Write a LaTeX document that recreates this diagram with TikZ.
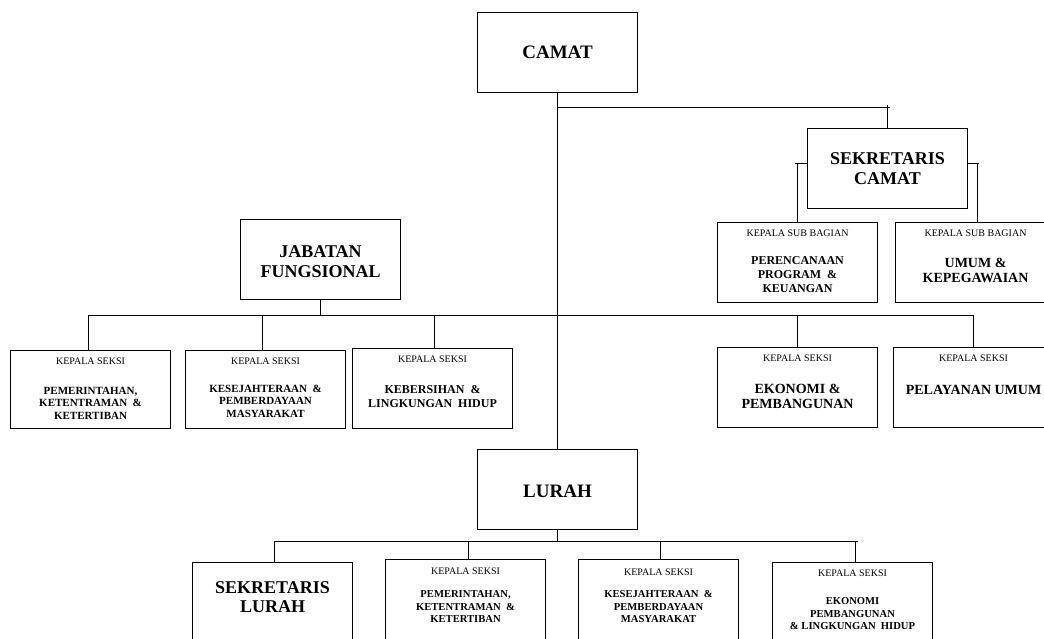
\documentclass[tikz,border=0pt]{standalone}
\usepackage{fontspec}
\setmainfont{Liberation Serif}
\begin{document}
\begin{tikzpicture}[x=1pt,y=-1pt,
  box/.style={draw, line width=1.1pt, minimum width=160pt, minimum height=80pt, inner sep=0pt, anchor=north west},
  sbox/.style={draw, line width=1.1pt, minimum width=160pt, minimum height=78pt, inner sep=0pt, anchor=north west},
  conn/.style={line width=0.9pt},
  lab/.style={font=\fontsize{10}{11}\selectfont, inner sep=0pt},
  bigt/.style={font=\fontsize{19}{21}\selectfont\bfseries, align=center, inner sep=0pt},
  midt/.style={font=\fontsize{18}{19.5}\selectfont\bfseries, align=center, inner sep=0pt},
  t14/.style={font=\fontsize{14}{15}\selectfont\bfseries, align=center, inner sep=0pt},
  t12/.style={font=\fontsize{12}{14}\selectfont\bfseries, align=center, inner sep=0pt},
  t11/.style={font=\fontsize{11}{12.5}\selectfont\bfseries, align=center, inner sep=0pt},
  t10/.style={font=\fontsize{10.6}{12.5}\selectfont\bfseries, align=center, inner sep=0pt}]
\useasboundingbox (0,0) rectangle (1044,638);
\clip (0,0) rectangle (1044,638);
\fill[white] (0,0) rectangle (1044,638);

% main boxes
\node[box] (camat) at (477,12) {};
\node[bigt] at (camat.center) {CAMAT};
\node[box] (sekcam) at (807,128) {};
\node[midt] at (sekcam.center) {SEKRETARIS\\CAMAT};
\node[box] (jab) at (240,219) {};
\node[midt] at ([yshift=-2pt]jab.center) {JABATAN\\FUNGSIONAL};
\node[box] (lurah) at (477,449) {};
\node[bigt] at ([yshift=-2pt]lurah.center) {LURAH};

% sub bagian
\node[box] (sb1) at (717,222) {};
\node[lab] at ([yshift=-11pt]sb1.north) {KEPALA SUB BAGIAN};
\node[t12] at ([yshift=-53pt]sb1.north) {PERENCANAAN\\PROGRAM\ \ \&\\KEUANGAN};
\node[box] (sb2) at (895,222) {};
\node[lab] at ([yshift=-11pt]sb2.north) {KEPALA SUB BAGIAN};
\node[t14] at ([yshift=-48pt]sb2.north) {UMUM \&\\KEPEGAWAIAN};

% seksi row
\node[sbox] (s1) at (10,350) {};
\node[lab] at ([yshift=-11pt]s1.north) {KEPALA SEKSI};
\node[t11] at ([yshift=-53pt]s1.north) {PEMERINTAHAN,\\KETENTRAMAN\ \ \&\\KETERTIBAN};
\node[sbox] (s2) at (185,350) {};
\node[lab] at ([yshift=-11pt]s2.north) {KEPALA SEKSI};
\node[t11] at ([yshift=-51pt]s2.north) {KESEJAHTERAAN\ \ \&\\PEMBERDAYAAN\\MASYARAKAT};
\node[box] (s3) at (352,348) {};
\node[lab] at ([yshift=-11pt]s3.north) {KEPALA SEKSI};
\node[t12] at ([yshift=-49pt]s3.north) {KEBERSIHAN\ \ \&\\LINGKUNGAN\ \ HIDUP};
\node[box] (s4) at (717,347) {};
\node[lab] at ([yshift=-11pt]s4.north) {KEPALA SEKSI};
\node[t14] at ([yshift=-49pt]s4.north) {EKONOMI \&\\PEMBANGUNAN};
\node[box] (s5) at (893,347) {};
\node[lab] at ([yshift=-11pt]s5.north) {KEPALA SEKSI};
\node[t14] at ([yshift=-43pt]s5.north) {PELAYANAN UMUM};

% lurah row
\node[box, minimum height=90pt] (l1) at (192,562) {};
\node[midt] at ([yshift=-35pt]l1.north) {SEKRETARIS\\LURAH};
\node[box, minimum height=90pt] (l2) at (385,559) {};
\node[lab] at ([yshift=-12pt]l2.north) {KEPALA SEKSI};
\node[t10] at ([yshift=-48pt]l2.north) {PEMERINTAHAN,\\KETENTRAMAN\ \ \&\\KETERTIBAN};
\node[box, minimum height=90pt] (l3) at (578,559) {};
\node[lab] at ([yshift=-13pt]l3.north) {KEPALA SEKSI};
\node[t10] at ([yshift=-48pt]l3.north) {KESEJAHTERAAN\ \ \&\\PEMBERDAYAAN\\MASYARAKAT};
\node[box, minimum height=90pt] (l4) at (772,562) {};
\node[lab] at ([yshift=-11pt]l4.north) {KEPALA SEKSI};
\node[t10] at ([yshift=-52pt]l4.north) {EKONOMI\\PEMBANGUNAN\\\& LINGKUNGAN\ \ HIDUP};

% connectors
\coordinate (j1) at (557,107);
\coordinate (j1e) at (890,107);
\draw[conn] (camat.south) -- (lurah.north);
\draw[conn] (j1) -- (j1e);
\draw[conn] (sekcam.north) -- (sekcam.north |- 0,105);
\coordinate (sl) at (795,163);
\coordinate (sr) at (979,163);
\draw[conn] (sekcam.west |- sl) -- (sl);
\draw[conn] (sl -| sb1.north) -- (sb1.north);
\draw[conn] (sekcam.east |- sr) -- (sr);
\draw[conn] (977,163) -- (sb2.north -| 977,0);

\coordinate (busL) at (88,315);
\coordinate (busR) at (973,315);
\draw[conn] (busL) -- (busR);
\draw[conn] (jab.south) -- (jab.south |- busL);
\draw[conn] (busL) -- (busL |- s1.north);
\draw[conn] (262,315) -- (s2.north -| 262,0);
\draw[conn] (434,315) -- (s3.north -| 434,0);
\draw[conn] (s4.north |- busL) -- (s4.north);
\draw[conn] (busR) -- (busR |- s5.north);

\coordinate (bus2L) at (274,541);
\coordinate (bus2R) at (858,541);
\draw[conn] (bus2L) -- (bus2R);
\draw[conn] (lurah.south) -- (lurah.south |- bus2L);
\draw[conn] (bus2L) -- (bus2L |- l1.north);
\draw[conn] (468,541) -- (l2.north -| 468,0);
\draw[conn] (660,541) -- (l3.north -| 660,0);
\draw[conn] (855,541) -- (l4.north -| 855,0);
\end{tikzpicture}
\end{document}
